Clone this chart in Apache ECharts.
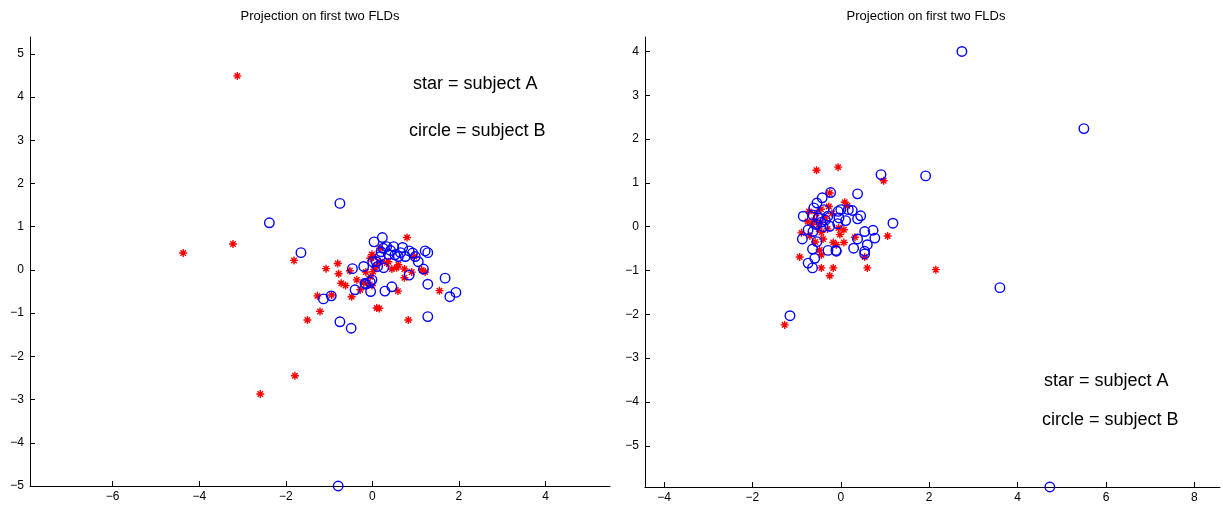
<!DOCTYPE html>
<html><head><meta charset="utf-8">
<script src="https://cdn.jsdelivr.net/npm/echarts@6/dist/echarts.min.js"></script>
<style>html,body{margin:0;padding:0;background:#fff}#c{width:1223px;height:508px}</style>
</head><body><div id="c"></div>
<script>
const titleText = 'Projection on first two FLDs';
const annotationA = 'star = subject A';
const annotationB = 'circle = subject B';

const leftXTicks = [-6, -4, -2, 0, 2, 4];
const leftYTicks = [-5, -4, -3, -2, -1, 0, 1, 2, 3, 4, 5];
const rightXTicks = [-4, -2, 0, 2, 4, 6, 8];
const rightYTicks = [-5, -4, -3, -2, -1, 0, 1, 2, 3, 4];

// Left panel: subject A (stars)
const leftStarX = [-3.12,-4.37,-3.22,-1.79,-2.59,-1.81,-1.07,-0.80,-0.78,-0.52,-0.36,-0.72,-0.62,-0.28,-0.09,-0.05,-0.01,-0.05,-1.27,-0.94,-0.48,-1.21,-1.50,0.10,0.80,0.18,0.03,0.33,0.02,0.56,0.60,0.74,0.74,0.91,1.14,1.22,-0.01,0.59,1.55,0.83,0.97,0.16,0.18,0.37,0.06,-0.15,0.45,-0.20,0.10];
const leftStarY = [4.49,0.39,0.60,-2.45,-2.87,0.22,0.03,0.15,-0.09,-0.02,-0.23,-0.31,-0.36,-0.46,-0.35,-0.16,0.36,0.27,-0.60,-0.58,-0.62,-0.96,-1.16,-0.88,0.75,0.50,0.30,0.16,-0.04,0.05,0.12,0.02,-0.18,-0.05,0.00,-0.05,-0.36,-0.49,-0.48,-1.16,0.31,-0.89,0.19,0.19,0.05,-0.05,0.02,-0.30,0.10];
// Left panel: subject B (circles)
const leftCircX = [-2.38,-0.75,-1.65,-0.79,-0.46,-0.20,-0.40,-0.15,-0.05,-0.04,0.04,0.01,-1.13,-0.95,-0.75,-0.49,0.23,0.25,0.33,0.49,0.70,0.85,0.93,1.22,1.28,0.18,0.37,0.52,0.60,0.76,0.99,1.06,0.09,0.12,0.26,1.18,0.85,1.28,1.68,1.93,1.79,0.45,0.29,1.28,0.20,0.42,0.65,-0.01,-0.17];
const leftCircY = [1.09,1.54,0.40,-5.00,0.03,0.08,-0.46,-0.33,-0.28,-0.50,0.65,0.19,-0.67,-0.60,-1.20,-1.35,0.75,0.50,0.54,0.54,0.52,0.44,0.39,0.44,0.40,0.31,0.36,0.35,0.31,0.31,0.31,0.19,0.19,0.08,0.05,0.02,-0.12,-0.33,-0.19,-0.52,-0.62,-0.39,-0.49,-1.08,0.42,0.45,0.40,-0.23,-0.31];

// Right panel: subject A (stars)
const rightStarX = [0.97,2.15,-1.27,-0.55,-0.06,-0.25,-0.27,-0.72,-0.48,-0.89,-0.70,-0.44,-0.40,-0.17,-0.48,-0.44,-0.93,-0.44,-0.17,-0.25,0.09,0.15,0.07,-0.05,1.06,0.32,-0.02,0.07,-0.10,0.54,0.60,-0.55,-0.60,-0.45,-0.35,-0.65,-0.50,-0.30,-0.58,-0.75,-0.20];
const rightStarY = [1.05,-0.98,-2.24,1.29,1.36,0.77,0.46,0.35,0.08,-0.14,-0.21,-0.13,-0.28,-0.36,-0.53,-0.64,-0.69,-0.94,-0.94,-1.12,0.56,0.48,-0.07,-0.03,-0.21,-0.24,-0.18,-0.36,-0.41,-0.69,-0.94,0.30,0.15,0.40,0.20,0.05,-0.05,-0.05,-0.35,0.12,0.30];
// Right panel: subject B (circles)
const rightCircX = [2.74,5.50,0.91,1.92,3.60,-1.15,4.73,-0.23,-0.42,-0.54,-0.61,-0.38,-0.85,-0.63,-0.51,-0.29,-0.25,-0.06,-0.04,-0.74,-0.63,-0.87,-0.54,-0.11,-0.29,-0.64,-0.59,-0.74,-0.64,0.38,0.26,0.17,0.00,0.45,0.38,0.11,-0.07,1.18,0.54,0.73,0.77,0.38,0.60,0.29,-0.10,0.54,0.54,-0.45,-0.40,-0.55,-0.35];
const rightCircY = [4.00,2.24,1.19,1.16,-1.39,-2.03,-5.94,0.78,0.66,0.54,0.43,0.39,0.24,0.27,0.20,0.24,0.01,0.35,0.20,-0.07,-0.11,-0.28,-0.34,-0.54,-0.54,-0.51,-0.72,-0.83,-0.94,0.75,0.37,0.39,0.39,0.25,0.18,0.14,0.07,0.08,-0.11,-0.08,-0.26,-0.28,-0.41,-0.49,-0.56,-0.56,-0.62,0.10,0.00,0.05,0.15];

const zip = (xs, ys) => xs.map((x, i) => [x, ys[i]]);
const fmt = v => (v < 0 ? '\u2212' + Math.abs(v) : String(v));
const FONT = '"Liberation Sans", Arial, sans-serif';
const STAR = 'path://M5,0L5,10M0,5L10,5M1.6,1.6L8.4,8.4M1.6,8.4L8.4,1.6';

function axis(gi, min, max, ticks, isX) {
  return {
    type: 'value', gridIndex: gi, min: min, max: max,
    axisLine: { onZero: false, lineStyle: { color: '#000', width: 1 } },
    axisTick: { inside: true, length: 5, customValues: ticks, lineStyle: { color: '#000', width: 1 } },
    axisLabel: { customValues: ticks, color: '#000', fontSize: 12, fontFamily: FONT, margin: isX ? 5 : 6, formatter: fmt },
    splitLine: { show: false }
  };
}
function starSeries(xi, yi, data) {
  return { type: 'scatter', xAxisIndex: xi, yAxisIndex: yi, data: data, symbol: STAR, symbolSize: 8, clip: false,
    itemStyle: { color: 'rgba(0,0,0,0)', borderColor: '#ff0000', borderWidth: 1.4, opacity: 1 }, silent: true };
}
function circSeries(xi, yi, data) {
  return { type: 'scatter', xAxisIndex: xi, yAxisIndex: yi, data: data, symbol: 'circle', symbolSize: 9.5, clip: false,
    itemStyle: { color: 'rgba(0,0,0,0)', borderColor: '#0000ff', borderWidth: 1.4, opacity: 1 }, silent: true };
}
function txt(x, y, s, size, align) {
  return { type: 'text', x: x, y: y, silent: true,
    style: { text: s, fill: '#000', font: size + 'px ' + FONT, align: align, verticalAlign: 'middle' } };
}

const chart = echarts.init(document.getElementById('c'), null, { renderer: 'canvas' });
chart.setOption({
  backgroundColor: '#fff',
  animation: false,
  grid: [
    { left: 30, top: 37, width: 580, height: 449, containLabel: false },
    { left: 645, top: 37, width: 575, height: 450, containLabel: false }
  ],
  xAxis: [axis(0, -7.91, 5.49, leftXTicks, true), axis(1, -4.43, 8.58, rightXTicks, true)],
  yAxis: [axis(0, -5, 5.39, leftYTicks, false), axis(1, -5.94, 4.33, rightYTicks, false)],
  series: [
    starSeries(0, 0, zip(leftStarX, leftStarY)),
    circSeries(0, 0, zip(leftCircX, leftCircY)),
    starSeries(1, 1, zip(rightStarX, rightStarY)),
    circSeries(1, 1, zip(rightCircX, rightCircY))
  ],
  graphic: [
    txt(320, 16, titleText, 13, 'center'),
    txt(926, 16, titleText, 13, 'center'),
    txt(413, 84, annotationA, 18, 'left'),
    txt(409, 131, annotationB, 18, 'left'),
    txt(1044, 381, annotationA, 18, 'left'),
    txt(1042, 420, annotationB, 18, 'left')
  ]
});
</script>
</body></html>
